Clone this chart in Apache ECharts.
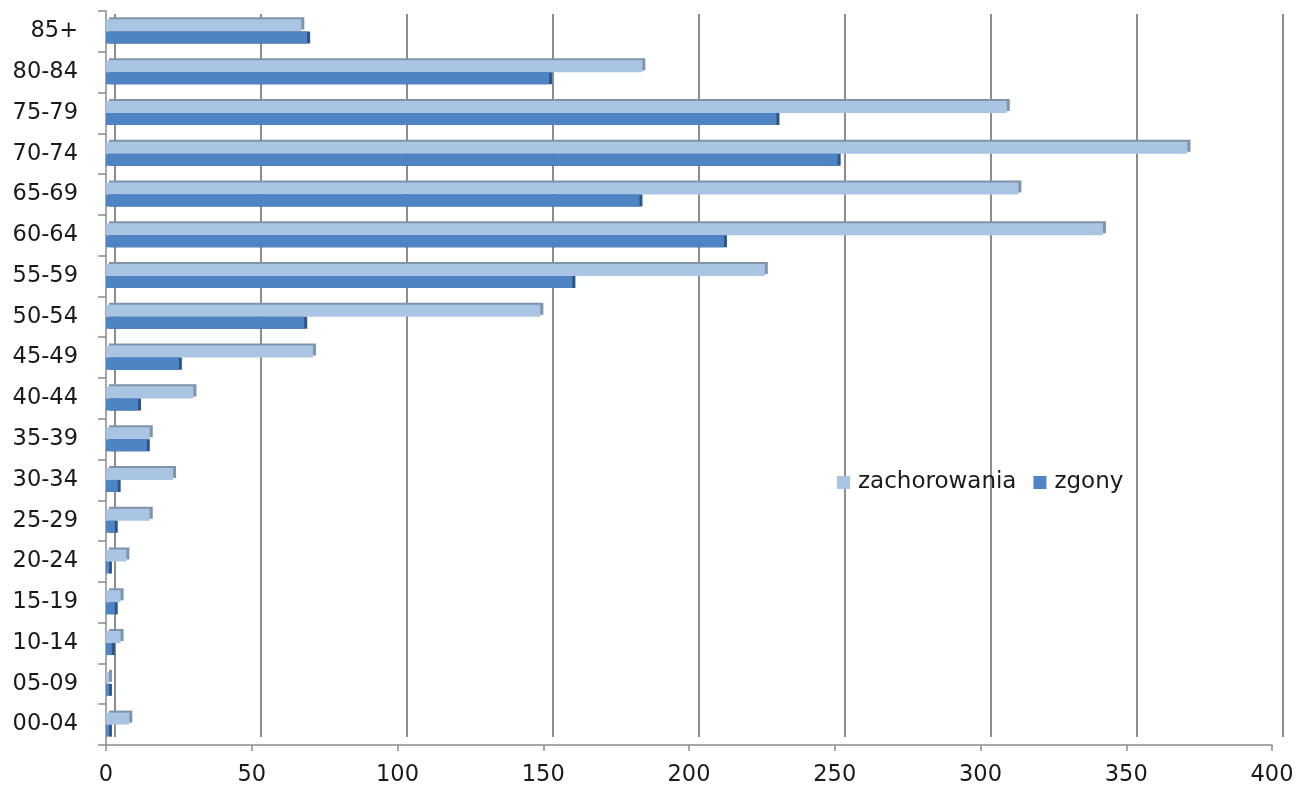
<!DOCTYPE html>
<html>
<head>
<meta charset="utf-8">
<script src="https://cdn.jsdelivr.net/npm/echarts@6/dist/echarts.min.js"></script>
<style>html,body{margin:0;padding:0;background:#fff;}#c{width:1298px;height:794px;}</style>
</head>
<body>
<div id="c"></div>
<script>
const categories = ['00-04','05-09','10-14','15-19','20-24','25-29','30-34','35-39','40-44','45-49','50-54','55-59','60-64','65-69','70-74','75-79','80-84','85+'];
const zachorowania = [8,1,5,5,7,15,23,15,30,71,149,226,342,313,371,309,184,67];
const zgony = [1,1,2,3,1,3,4,14,11,25,68,160,212,183,251,230,152,69];
const xTicks = { min: 0, max: 400, interval: 50 };

const FONT = 'DejaVu Sans';
const chart = echarts.init(document.getElementById('c'), null, { renderer: 'canvas' });
chart.setOption({
  animation: false,
  backgroundColor: '#ffffff',
  textStyle: { fontFamily: FONT },
  grid: [
    { left: 106, right: 26, top: 11, bottom: 49, containLabel: false },
    { left: 115, right: 15, top: 14, bottom: 57, containLabel: false }
  ],
  legend: {
    data: ['zachorowania', 'zgony'],
    left: 837, top: 471,
    orient: 'horizontal',
    icon: 'rect', itemWidth: 13, itemHeight: 13, itemGap: 17,
    padding: 0,
    textStyle: { fontFamily: FONT, fontSize: 23, color: '#1a1a1a', padding: [0, 0, 0, 3] }
  },
  xAxis: [
    {
      type: 'value', gridIndex: 0, min: xTicks.min, max: xTicks.max, interval: xTicks.interval,
      axisLine: { show: true, lineStyle: { color: '#8a8a8a', width: 1.5 } },
      axisTick: { show: true, length: 6, lineStyle: { color: '#8a8a8a', width: 1.5 } },
      axisLabel: { fontFamily: FONT, fontSize: 22.5, color: '#1a1a1a', margin: 19 },
      splitLine: { show: false }
    },
    {
      type: 'value', gridIndex: 1, min: xTicks.min, max: xTicks.max, interval: xTicks.interval,
      axisLine: { show: false }, axisTick: { show: false }, axisLabel: { show: false },
      splitLine: { show: true, lineStyle: { color: '#8c8c8c', width: 2 } }
    }
  ],
  yAxis: [
    {
      type: 'category', gridIndex: 0, data: categories,
      axisLine: { show: true, lineStyle: { color: '#8a8a8a', width: 1.5 } },
      axisTick: { show: true, length: 8, lineStyle: { color: '#8a8a8a', width: 1.5 } },
      axisLabel: { fontFamily: FONT, fontSize: 22.5, color: '#1a1a1a', margin: 28 }
    },
    {
      type: 'category', gridIndex: 1, data: categories, show: false
    }
  ],
  series: [
    {
      name: 'zachorowania', type: 'bar', xAxisIndex: 0, yAxisIndex: 0,
      data: zachorowania, barGap: '0%', barCategoryGap: '41%',
      itemStyle: { color: '#a9c5e3', shadowColor: '#7f93aa', shadowOffsetX: 3, shadowOffsetY: -2, shadowBlur: 0 }
    },
    {
      name: 'zgony', type: 'bar', xAxisIndex: 0, yAxisIndex: 0,
      data: zgony, barGap: '0%', barCategoryGap: '41%',
      itemStyle: { color: '#4f84c4', shadowColor: '#2a5688', shadowOffsetX: 3, shadowOffsetY: 0, shadowBlur: 0 }
    }
  ]
});
</script>
</body>
</html>
